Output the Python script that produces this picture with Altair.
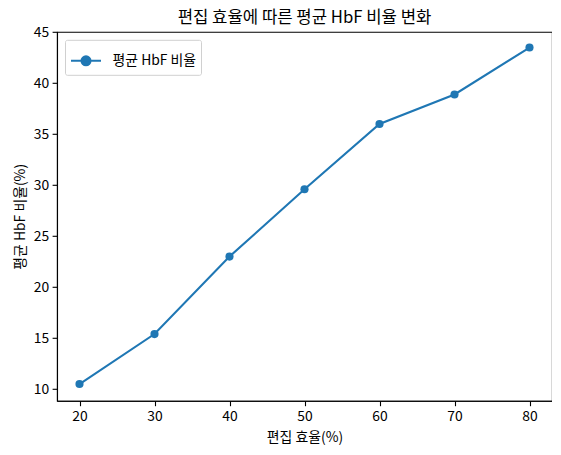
import altair as alt
import pandas as pd

efficiency = [20, 30, 40, 50, 60, 70, 80]
hbf = [10.5, 15.4, 23.0, 29.6, 36.0, 38.9, 43.5]
series_name = "평균 HbF 비율"

df = pd.DataFrame({"eff": efficiency, "hbf": hbf, "series": [series_name] * len(efficiency)})

FONT = "Noto Sans CJK KR"
BLUE = "#1f77b4"

legend_symbol = "M-1,0L1,0M-0.3,0A0.3,0.3,0,1,1,0.3,0A0.3,0.3,0,1,1,-0.3,0Z"

x = alt.X("eff:Q", title="편집 효율(%)",
          scale=alt.Scale(domain=[17, 83], nice=False, zero=False),
          axis=alt.Axis(values=[20, 30, 40, 50, 60, 70, 80], titlePadding=7))
y = alt.Y("hbf:Q", title="평균 HbF 비율(%)",
          scale=alt.Scale(domain=[8.855, 45.045], nice=False, zero=False),
          axis=alt.Axis(values=[10, 15, 20, 25, 30, 35, 40, 45], titlePadding=6))
color = alt.Color("series:N", scale=alt.Scale(range=[BLUE]),
                  legend=alt.Legend(title=None, orient="top-left", offset=8,
                                    symbolType=legend_symbol, symbolSize=900,
                                    symbolStrokeWidth=2.08, symbolFillColor=BLUE,
                                    symbolStrokeColor=BLUE, symbolOpacity=1,
                                    labelOffset=10, padding=4.5,
                                    strokeColor="#d0d0d0", fillColor="rgba(255,255,255,0.8)",
                                    cornerRadius=2))

line = alt.Chart(df).mark_line(strokeWidth=2.08, color=BLUE).encode(x=x, y=y, color=color)
pts = alt.Chart(df).mark_circle(size=66, opacity=1, color=BLUE).encode(x=x, y=y, color=color)

chart = (line + pts).properties(
    width=495, height=369,
    autosize=alt.AutoSizeParams(type="none"),
    padding={"left": 49, "top": 23.8, "right": 0, "bottom": 46},
    title=alt.TitleParams("편집 효율에 따른 평균 HbF 비율 변화", fontSize=16.7, font=FONT,
                          fontWeight="normal", color="black", anchor="middle", offset=-1),
).configure_view(stroke="black", strokeWidth=1.1).configure_axis(
    grid=False, domainColor="black", domainWidth=1.1, tickColor="black", tickWidth=1.1,
    tickSize=4.9, labelPadding=3.5, labelFont=FONT, labelFontSize=13.9, labelColor="black",
    titleFont=FONT, titleFontSize=13.9, titleFontWeight="normal", titleColor="black",
).configure_legend(labelFont=FONT, labelFontSize=13.9, labelColor="black")

chart.save("out.html", embed_options={"renderer": "svg", "actions": False})
